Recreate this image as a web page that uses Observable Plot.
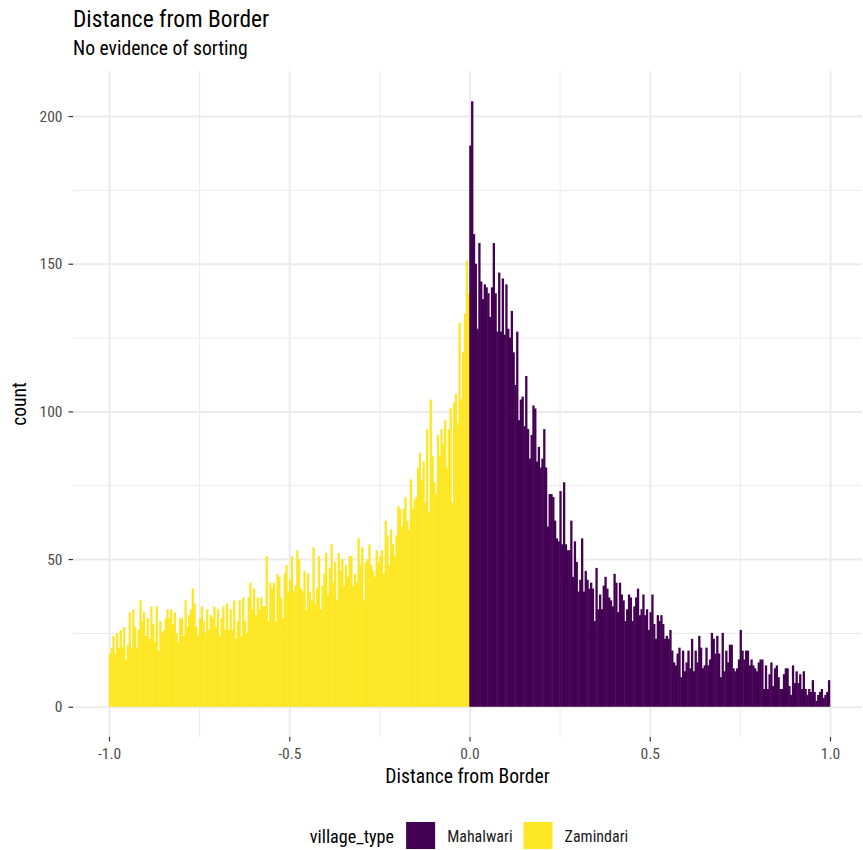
<!DOCTYPE html>
<html>
<head>
<meta charset="utf-8">
<script src="https://cdn.jsdelivr.net/npm/d3@7"></script>
<script src="https://cdn.jsdelivr.net/npm/@observablehq/plot@0.6"></script>
<style>
  html, body { margin: 0; padding: 0; background: #ffffff; }
  #chart { width: 863px; height: 850px; }
</style>
</head>
<body>
<div id="chart"></div>
<script>
// ---- data ----
const titleText = "Distance from Border";
const subtitleText = "No evidence of sorting";
const xLabel = "Distance from Border";
const yLabel = "count";
const legendTitle = "village_type";
const categories = ["Mahalwari", "Zamindari"];
const categoryColors = ["#440154", "#FDE725"];
const xTicks = [-1.0, -0.5, 0.0, 0.5, 1.0];
const xMinorTicks = [-0.75, -0.25, 0.25, 0.75];
const yTicks = [0, 50, 100, 150, 200];
const yMinorTicks = [25, 75, 125, 175];

const binWidth = 0.005;
const zamindariStart = -1.0;
const mahalwariStart = 0.0;

// Zamindari counts, bins from -1.0 to 0.0
const zamindariCounts = [
  18, 20, 24, 18, 25, 20, 26, 20, 27, 16, 21, 32, 20, 33, 27, 20, 26, 36, 29, 32,
  24, 30, 23, 34, 28, 22, 34, 19, 29, 25, 26, 30, 33, 30, 33, 28, 32, 25, 22, 30,
  30, 24, 36, 27, 31, 33, 40, 35, 27, 24, 30, 34, 29, 25, 33, 26, 31, 30, 34, 27,
  33, 24, 30, 34, 26, 35,
  26, 33, 26, 36, 23, 29, 36, 24, 37, 29, 25, 37, 42, 33,
  40, 31, 37, 33, 37, 34, 34, 51, 29, 42, 40, 42, 29, 45, 44, 37, 30, 45, 48, 39,
  43, 51, 39, 41, 53, 50, 40, 39, 46, 33, 45, 39, 36, 54, 35, 40, 51, 33, 41,
  45, 52, 38, 47, 55, 42, 49, 36, 52, 46, 50, 41, 48, 44, 51,
  51, 41, 45, 42, 57, 48, 54, 36, 49, 50, 55, 48, 46, 44, 53, 49, 51, 53, 45, 63,
  58, 48, 60, 55, 51, 58, 68, 67, 61, 67, 71, 63, 60, 77, 67, 70, 71, 81, 86, 77,
  83, 69, 94, 66, 104, 85, 76, 72, 92, 85, 94, 89, 97, 81, 94, 101, 69, 103, 106, 96,
  130, 104, 120, 133, 151, 140
];

// Mahalwari counts, bins from 0.0 to 1.0
const mahalwariCounts = [
  190, 205, 160, 150, 128, 157, 144, 138, 143, 142, 140, 132, 142, 157, 140, 127, 147, 127, 145, 126,
  143, 128, 125, 134, 120, 109, 127, 97, 104, 105, 95, 112, 94, 84, 92, 102, 101, 83, 88, 81,
  84, 94, 81, 61, 72, 72, 71, 63, 57, 56, 73, 55, 76, 55, 53, 53, 63, 44, 56, 49,
  39, 43, 57, 39, 46, 43,
  40, 42, 40, 29, 47, 33, 38, 33, 41, 44, 40, 37, 36, 34, 45, 42, 32, 42, 38, 36,
  29, 33, 38, 37, 29, 34, 37, 40, 31, 33, 38, 31, 33, 26, 32, 38, 28, 23, 31, 29,
  31, 28, 23, 24, 23, 26, 19, 15, 14, 18, 20, 10, 19, 12, 15, 19, 13, 23, 12, 19,
  15, 24, 20, 13, 14, 20, 14, 16,
  25, 23, 18, 24, 18, 10, 25, 12, 19, 15, 21, 21, 13, 12, 13, 16, 26, 19, 16, 19,
  19, 14, 16, 14, 13, 12, 15, 16, 16, 6, 14, 6, 11, 15, 7, 13, 14, 10, 6, 6,
  11, 13, 13, 7, 4, 14, 8, 12, 8, 11, 6, 12, 6, 4, 6, 5, 9, 5, 2, 4,
  5, 6, 3, 4, 5, 9
];

// ---- table for Plot ----
const bins = [
  ...zamindariCounts.map((c, i) => ({
    x1: zamindariStart + i * binWidth,
    x2: zamindariStart + (i + 1) * binWidth,
    count: c, type: "Zamindari"
  })),
  ...mahalwariCounts.map((c, i) => ({
    x1: mahalwariStart + i * binWidth,
    x2: mahalwariStart + (i + 1) * binWidth,
    count: c, type: "Mahalwari"
  }))
];

const FONT = "'Roboto Condensed', 'Liberation Sans Narrow', 'Arial Narrow', Roboto, sans-serif";
const GRID = "#EBEBEB";

const chart = Plot.plot({
  width: 863,
  height: 850,
  marginTop: 71,
  marginBottom: 113,
  marginLeft: 73,
  marginRight: 1,
  x: { domain: [-1.0999, 1.0888] },
  y: { domain: [-10.25, 215.25] },
  color: { domain: categories, range: categoryColors },
  style: { fontFamily: FONT, fontSize: "15.5px", background: "#ffffff", color: "#4D4D4D" },
  marks: [
    Plot.ruleX(xMinorTicks, { stroke: GRID, strokeWidth: 1 }),
    Plot.ruleY(yMinorTicks, { stroke: GRID, strokeWidth: 1 }),
    Plot.ruleX(xTicks, { stroke: GRID, strokeWidth: 2 }),
    Plot.ruleY(yTicks, { stroke: GRID, strokeWidth: 2 }),
    Plot.rectY(bins, {
      x1: "x1", x2: "x2", y: "count", fill: "type",
      insetLeft: -0.25, insetRight: -0.25
    }),
    Plot.axisX({
      ticks: xTicks, tickFormat: d => d.toFixed(1), tickSize: 4.5, tickPadding: 6,
      stroke: "#333333", strokeWidth: 1.2, fill: "#4D4D4D", fontSize: 15.5, label: null
    }),
    Plot.axisY({
      ticks: yTicks, tickFormat: d => String(d), tickSize: 4.5, tickPadding: 6.5,
      stroke: "#333333", strokeWidth: 1.2, fill: "#4D4D4D", fontSize: 15.5, label: null
    })
  ]
});

document.getElementById("chart").appendChild(chart);

// ---- titles, axis titles and legend (drawn into the same SVG) ----
const svg = d3.select(chart);
const color = chart.scale("color");
const addText = (txt, size, anchor = "start", fill = "#000000") =>
  svg.append("text").text(txt).attr("fill", fill).attr("text-anchor", anchor)
    .style("font-family", FONT).style("font-size", size + "px");

addText(titleText, 23.4).attr("x", 73).attr("y", 27);
addText(subtitleText, 19.6).attr("x", 73).attr("y", 55);
addText(xLabel, 19.6, "middle").attr("x", (73 + 862) / 2).attr("y", 783);
addText(yLabel, 19.6, "middle")
  .attr("transform", `translate(26,${(71 + 737) / 2}) rotate(-90)`);

// legend: laid out left to right, then centred under the panel
const lg = svg.append("g").attr("text-anchor", "start");
let cx = 0;
const t = lg.append("text").text(legendTitle).attr("x", cx).attr("y", 843)
  .attr("fill", "#000").style("font-family", FONT).style("font-size", "18.2px");
cx += t.node().getComputedTextLength() + 12;
categories.forEach((cat, i) => {
  lg.append("rect").attr("x", cx).attr("y", 822).attr("width", 29).attr("height", 27)
    .attr("fill", color.apply(cat));
  cx += 29 + 12;
  const lt = lg.append("text").text(cat).attr("x", cx).attr("y", 842)
    .attr("fill", "#1A1A1A").style("font-family", FONT).style("font-size", "16px");
  cx += lt.node().getComputedTextLength() + (i < categories.length - 1 ? 11 : 0);
});
const legendCenter = 469;
lg.attr("transform", `translate(${legendCenter - cx / 2},0)`);
</script>
</body>
</html>
